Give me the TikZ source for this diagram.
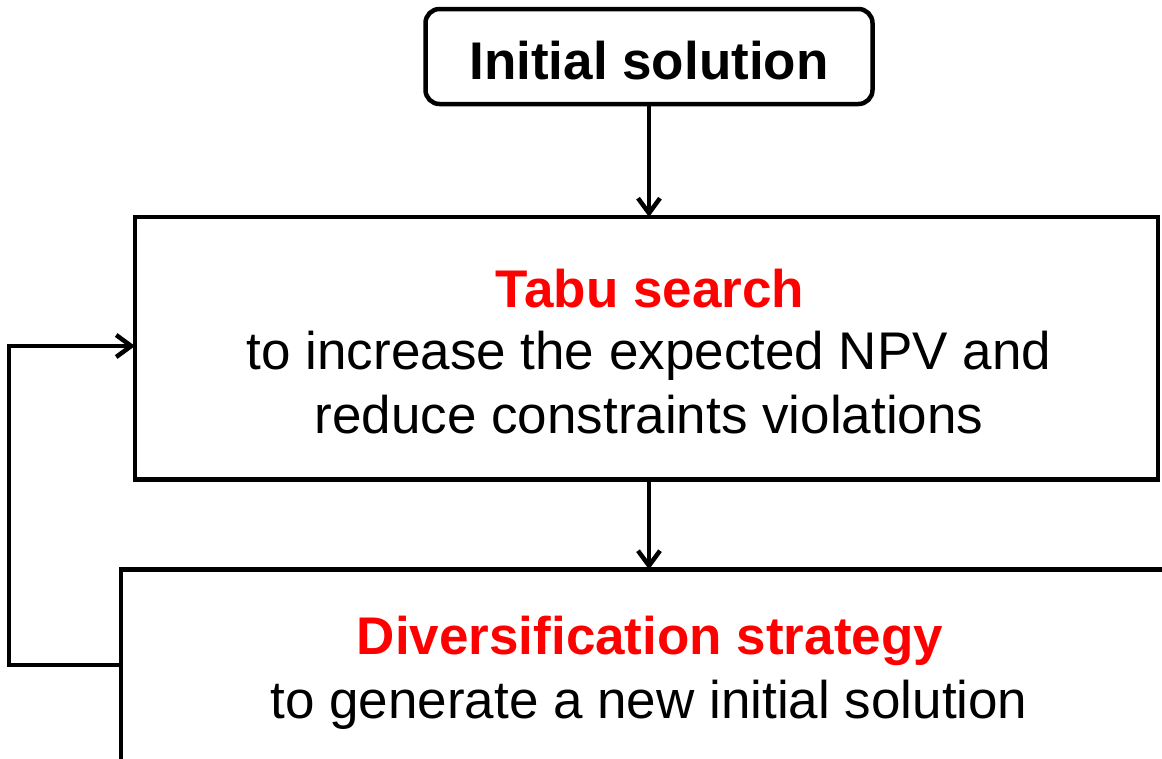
\documentclass[tikz,border=0pt]{standalone}
\usepackage{fontspec}
\setmainfont{Liberation Sans}
\usetikzlibrary{arrows.meta}

\begin{document}
\begin{tikzpicture}[x=1pt, y=-1pt,
  box/.style={draw, line width=4.5pt, inner sep=0pt, outer sep=0pt},
  flow/.style={line width=4.5pt, -{Straight Barb[length=15pt, width=22pt]}},
  txt/.style={font=\fontsize{53}{63}\selectfont, anchor=base, inner sep=0pt},
  head/.style={txt, font=\fontsize{53}{63}\selectfont\bfseries, text=red}]

  \useasboundingbox (0,0) rectangle (1162,758);
  \clip (0,0) rectangle (1162,758);

  % boxes (the lower one runs on past the page edge)
  \node[box, rounded corners=14pt, minimum width=447pt, minimum height=95pt] (init) at (649,56.5) {};
  \node[box, minimum width=1023pt, minimum height=262.5pt] (tabu) at (646.5,348.25) {};
  \node[box, minimum width=1100pt, minimum height=260pt] (div) at (671,699.5) {};

  % texts
  \node[head, text=black] (initT) at (649,79) {Initial solution};
  \node[head] (tabuT) at (650,307) {Tabu search};
  \node[txt] (tabuA) at (649,369) {to increase the expected NPV and};
  \node[txt] (tabuB) at (649,433) {reduce constraints violations};
  \node[head] (divT) at (650,654) {Diversification strategy};
  \node[txt] (divA) at (649,718) {to generate a new initial solution};

  % connectors
  \coordinate (fbtop) at (9,346);
  \coordinate (fbbot) at (9,665);
  \draw[flow] (init.south) -- (init.south |- tabu.north);
  \draw[flow] (init.south |- tabu.south) -- (init.south |- div.north);
  \draw[flow, line join=miter] (div.west |- fbbot) -- (fbbot) -- (fbtop) -- (tabu.west |- fbtop);
\end{tikzpicture}
\end{document}
